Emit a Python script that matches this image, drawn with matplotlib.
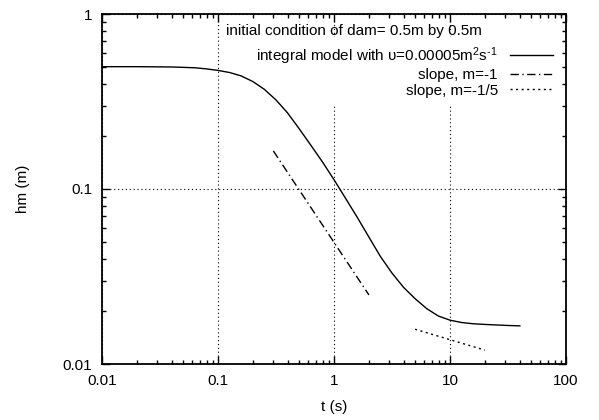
import matplotlib
matplotlib.use("Agg")
import matplotlib.pyplot as plt
from matplotlib.ticker import FixedLocator, FixedFormatter, LogLocator, NullFormatter

plt.rcParams['font.family'] = ['Liberation Sans', 'DejaVu Sans']
plt.rcParams['font.size'] = 11
plt.rcParams['mathtext.fontset'] = 'custom'
plt.rcParams['mathtext.rm'] = 'Liberation Sans'
plt.rcParams['mathtext.it'] = 'Liberation Sans:italic'

# integral model curve
t_model = [0.01, 0.02, 0.04, 0.063, 0.079, 0.1, 0.126, 0.158, 0.2, 0.251, 0.316,
           0.398, 0.501, 0.631, 0.794, 1.0, 1.26, 1.58, 2.0, 2.51, 3.16, 3.98,
           5.01, 6.31, 7.94, 10, 12.6, 15.8, 20, 25.1, 31.6, 40]
h_model = [0.5, 0.5, 0.498, 0.493, 0.486, 0.476, 0.463, 0.443, 0.411, 0.371, 0.323,
           0.272, 0.221, 0.178, 0.143, 0.113, 0.0883, 0.0692, 0.0531, 0.0412, 0.0331, 0.0274,
           0.0236, 0.0207, 0.0188, 0.0178, 0.01726, 0.01698, 0.01683, 0.01671, 0.0166, 0.01652]

# reference slopes (end points)
t_slope1 = [0.3, 2.0]
h_slope1 = [0.165, 0.0248]
t_slope5 = [5.0, 20.0]
h_slope5 = [0.0158, 0.012]

xticks = [0.01, 0.1, 1, 10, 100]
xlabels = ['0.01', '0.1', '1', '10', '100']
yticks = [0.01, 0.1, 1]
ylabels = ['0.01', '0.1', '1']

fig = plt.figure(figsize=(5.99, 4.2), dpi=100)
ax = fig.add_axes([102/599, 1-364/420, 464/599, 350/420])
ax.set_axisbelow(True)

ax.plot(t_model, h_model, color='black', linewidth=1.0, zorder=3,
        label=r'integral model with υ=0.00005m$^2$s$^{\text{-}1}$')
ax.plot(t_slope1, h_slope1, color='black', linewidth=1.0, linestyle=(0, (6, 2.5, 1, 2.5)),
        zorder=3, label='slope, m=-1')
ax.plot(t_slope5, h_slope5, color='black', linewidth=1.0, linestyle=(0, (1.5, 2.5)),
        zorder=3, label='slope, m=-1/5')

ax.set_xscale('log')
ax.set_yscale('log')
ax.set_xlim(0.01, 100)
ax.set_ylim(0.01, 1)

ax.xaxis.set_major_locator(FixedLocator(xticks))
ax.xaxis.set_major_formatter(FixedFormatter(xlabels))
ax.yaxis.set_major_locator(FixedLocator(yticks))
ax.yaxis.set_major_formatter(FixedFormatter(ylabels))
ax.xaxis.set_minor_locator(LogLocator(base=10, subs=range(2, 10), numticks=20))
ax.yaxis.set_minor_locator(LogLocator(base=10, subs=range(2, 10), numticks=20))
ax.xaxis.set_minor_formatter(NullFormatter())
ax.yaxis.set_minor_formatter(NullFormatter())

ax.tick_params(which='both', direction='in', top=True, right=True, width=1.0)
ax.tick_params(which='major', length=6, pad=7)
ax.tick_params(which='minor', length=3)
for s in ax.spines.values():
    s.set_linewidth(1.3)

ax.grid(which='major', linestyle=(0, (1, 2.5)), color='black', linewidth=0.8)

ax.set_xlabel('t (s)')
ax.set_ylabel('hm (m)')
ax.xaxis.set_label_coords(0.5, -0.103)
ax.yaxis.set_label_coords(-0.155, 0.5)

ax.text(0.268, 0.95, 'initial condition of dam= 0.5m by 0.5m', transform=ax.transAxes,
        ha='left', va='center', zorder=4)

leg = ax.legend(loc='upper right', bbox_to_anchor=(0.99, 0.935), markerfirst=False,
                frameon=True, fancybox=False, edgecolor='none', facecolor='white',
                framealpha=1.0, borderpad=0.55, borderaxespad=0, labelspacing=0.1,
                handlelength=2.8, handletextpad=0.8)
leg.set_zorder(2)

fig.savefig('out.png', dpi=100)
